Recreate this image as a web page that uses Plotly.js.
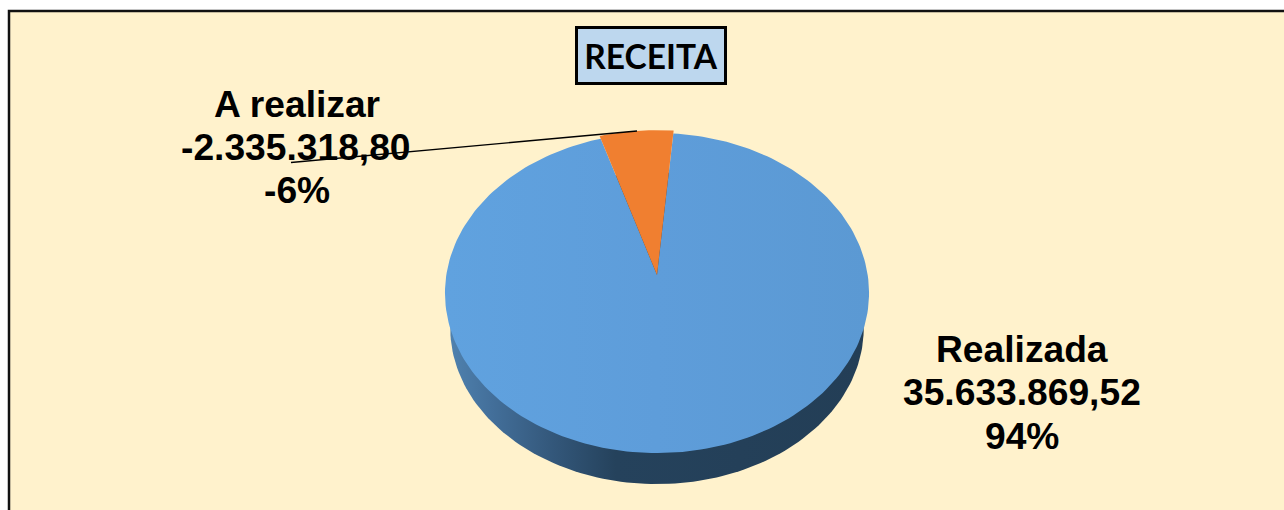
<!DOCTYPE html>
<html lang="pt">
<head>
<meta charset="utf-8">
<script src="https://cdn.plot.ly/plotly-3.0.1.min.js"></script>
<style>html,body{margin:0;padding:0;background:#fff;overflow:hidden}#chart{width:1284px;height:510px}</style>
</head>
<body>
<div id="chart"></div>
<script>
// ---- Data ----
var categories = ['A realizar', 'Realizada'];
var values = [2335318.80, 35633869.52];
var valueLabels = ['-2.335.318,80', '35.633.869,52'];
var percentLabels = ['-6%', '94%'];
var chartTitle = 'RECEITA';

// ---- Pie geometry: tilted disc seen in perspective, in pixel-scaled axes ----
var cx = 657, apexY = 275;
var R = 210.7, S = 158, P = 0.1125;
var startDeg = -17.2;

function rim(deg, scale, dy) {
  var t = deg * Math.PI / 180;
  var w = 1 + P * Math.cos(t);
  return [cx + scale * R * Math.sin(t) / w, apexY + dy - scale * S * Math.cos(t) / w];
}
function arc(a0, a1, scale, dy) {
  var n = Math.max(2, Math.ceil(Math.abs(a1 - a0) / 1.5));
  var xs = [], ys = [];
  for (var i = 0; i <= n; i++) {
    var p = rim(a0 + (a1 - a0) * i / n, scale, dy);
    xs.push(p[0]); ys.push(p[1]);
  }
  return {x: xs, y: ys};
}

var total = values.reduce(function (a, b) { return a + b; }, 0);
var smallSweep = 360 * values[0] / total;
var midDeg = startDeg + smallSweep;

var sideArc = arc(0, 360, 0.975, 35.5);
var faceArc = arc(midDeg, startDeg + 360, 1, 0);
var sliceArc = arc(startDeg, midDeg, 1.02, 0);

function closeToApex(a) {
  return {x: [cx].concat(a.x, [cx]), y: [apexY].concat(a.y, [apexY])};
}
var face = closeToApex(faceArc), slice = closeToApex(sliceArc);

function filled(name, pts, grad, solid) {
  var t = {type: 'scatter', mode: 'lines', name: name, x: pts.x, y: pts.y,
           fill: 'toself', line: {width: 0}, hoverinfo: 'skip'};
  if (grad) { t.fillgradient = {type: 'horizontal', colorscale: grad}; }
  else { t.fillcolor = solid; }
  return t;
}

var traces = [
  filled('lateral', sideArc,
    [[0, '#4f81ae'], [0.1, '#436f9a'], [0.25, '#33577a'], [0.4, '#25425c'], [1, '#233e56']]),
  filled(categories[1], face,
    [[0, '#60a2df'], [0.5, '#5e9dda'], [1, '#5b99d3']]),
  filled(categories[0], slice, null, '#f07f30')
];

function lineNote(text, x, y, size) {
  return {text: '<b>' + text + '</b>', x: x, y: y, xref: 'x', yref: 'y', showarrow: false,
          xanchor: 'center', yanchor: 'middle',
          font: {family: '"Liberation Sans", Arial, sans-serif', size: size, color: '#000'}};
}

var annotations = [
  lineNote(categories[0], 297, 104, 37.2),
  lineNote(valueLabels[0], 296, 147, 37.2),
  lineNote(percentLabels[0], 297, 190, 37.2),
  lineNote(categories[1], 1022, 349, 37.2),
  lineNote(valueLabels[1], 1022, 392, 37.2),
  lineNote(percentLabels[1], 1022, 436, 37.2),
  {text: '<b>' + chartTitle + '</b>', x: 651, y: 55.5, xref: 'x', yref: 'y', showarrow: false,
   xanchor: 'center', yanchor: 'middle', width: 146, height: 53,
   bgcolor: '#bdd7ee', bordercolor: '#000', borderwidth: 3, borderpad: 0,
   font: {family: 'Lato, "Open Sans", sans-serif', size: 33.5, color: '#000'}}
];

var layout = {
  width: 1284, height: 510,
  margin: {l: 0, r: 0, t: 0, b: 0, pad: 0},
  paper_bgcolor: '#ffffff', plot_bgcolor: 'rgba(0,0,0,0)',
  showlegend: false, hovermode: false,
  xaxis: {range: [0, 1284], visible: false, fixedrange: true},
  yaxis: {range: [510, 0], visible: false, fixedrange: true},
  shapes: [
    {type: 'rect', xref: 'x', yref: 'y', x0: 9, y0: 11, x1: 1300, y1: 530, layer: 'below',
     fillcolor: '#fff2cc', line: {color: '#111', width: 2.5}},
    {type: 'line', xref: 'x', yref: 'y', x0: 291, y0: 162.5, x1: 637, y1: 131, layer: 'above',
     line: {color: '#000', width: 1.3}}
  ],
  annotations: annotations
};

Plotly.newPlot('chart', traces, layout, {displayModeBar: false, staticPlot: true});
</script>
</body>
</html>
